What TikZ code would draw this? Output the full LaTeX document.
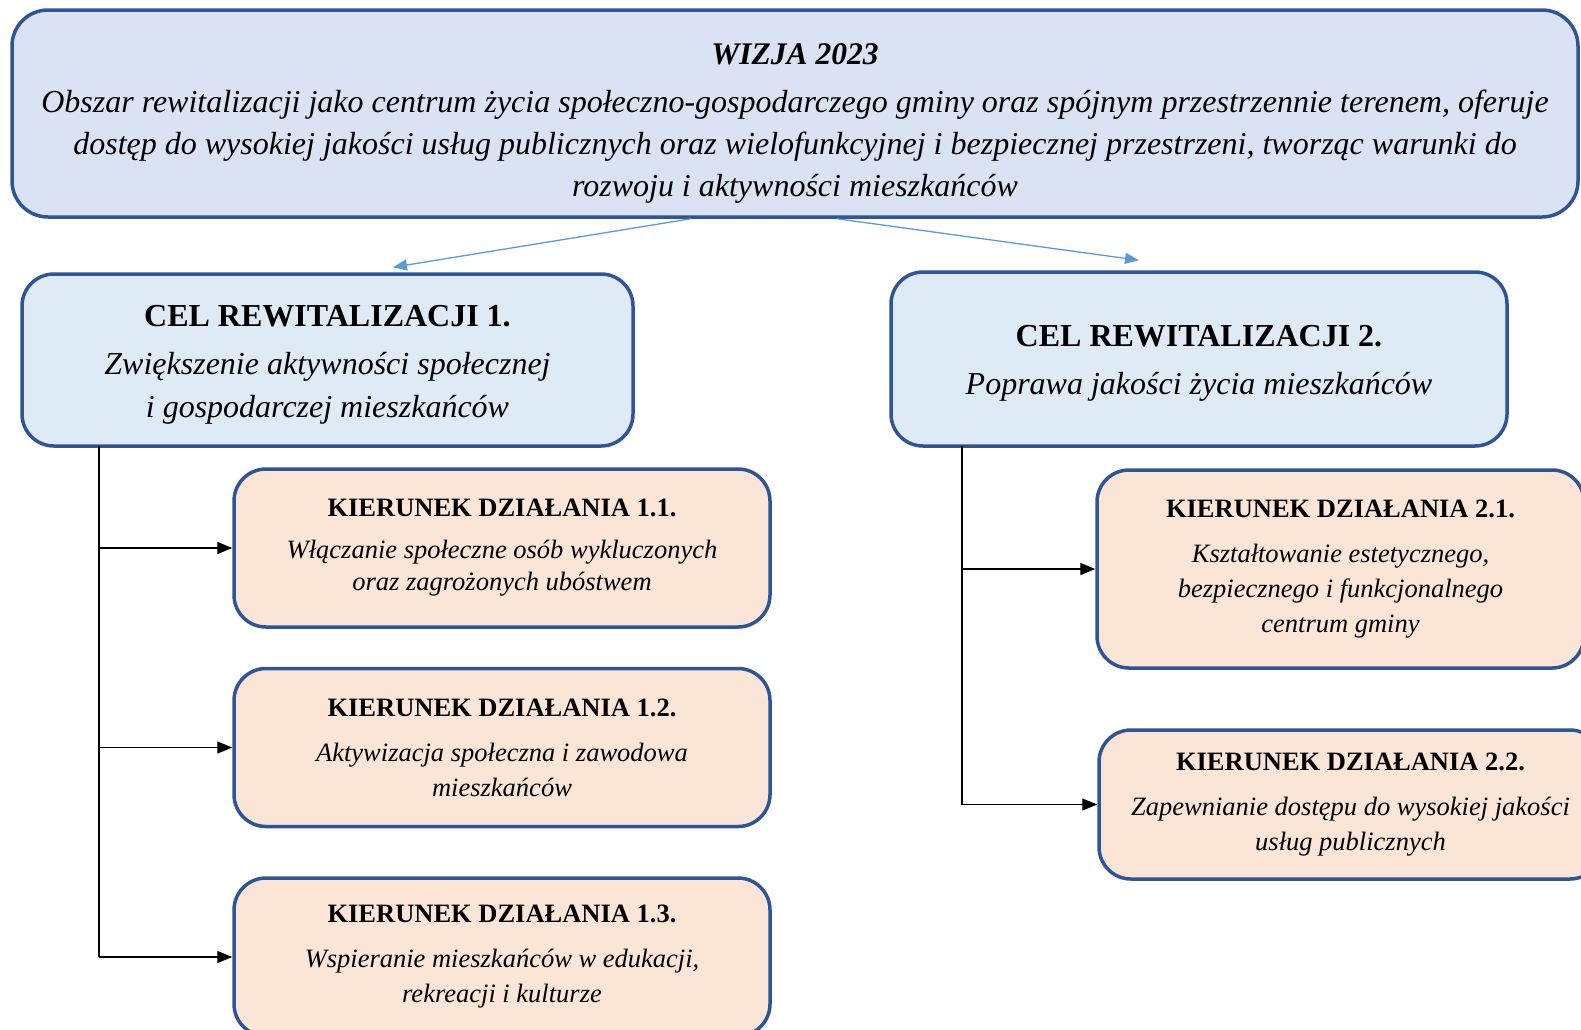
\documentclass[tikz,border=0pt]{standalone}
\usepackage{fontspec}
\setmainfont{Liberation Serif}
\usepackage{xcolor}
\usetikzlibrary{arrows.meta}

\definecolor{visionfill}{HTML}{DAE3F3}
\definecolor{celfill}{HTML}{DEEBF7}
\definecolor{kierfill}{HTML}{FBE5D6}
\definecolor{boxline}{HTML}{2F5597}
\definecolor{linkblue}{HTML}{5B9BD5}

\tikzset{
    visionbox/.style = {draw = boxline, fill = visionfill, line width = 3.5pt,
        rounded corners = 36pt, align = center, inner sep = 0pt,
        font = \fontsize{32}{42}\selectfont\itshape},
    celbox/.style = {draw = boxline, fill = celfill, line width = 3.5pt,
        rounded corners = 32pt, align = center, inner sep = 0pt,
        font = \fontsize{32}{43}\selectfont\itshape},
    kierbox/.style = {draw = boxline, fill = kierfill, line width = 3.5pt,
        rounded corners = 32pt, align = center, inner sep = 0pt,
        font = \fontsize{26.5}{35}\selectfont\itshape},
    bluelink/.style = {draw = linkblue, line width = 1.3pt,
        -{Triangle[length = 14pt, width = 11pt]}},
    blacklink/.style = {draw = black, line width = 1.3pt,
        -{Triangle[length = 15pt, width = 12pt]}}
}

\newcommand{\celtitle}[1]{{\upshape\bfseries\rule{0pt}{30pt}#1}\\[5pt]}
\newcommand{\kiertitle}[1]{{\upshape\bfseries #1}\\[10pt]}

\begin{document}
\begin{tikzpicture}[x = 1pt, y = -1pt]
    \useasboundingbox (0, 0) rectangle (1581, 1029);
    \clip (0, 0) rectangle (1581, 1029);

    % wizja
    \node[visionbox, minimum width = 1566pt, minimum height = 207pt] (wizja) at (795, 113.5)
        {{\fontsize{31.5}{34}\selectfont\bfseries\rule{0pt}{40pt}WIZJA 2023}\\[6pt]
        Obszar rewitalizacji jako centrum życia społeczno-gospodarczego gminy oraz spójnym przestrzennie terenem, oferuje\\
        dostęp do wysokiej jakości usług publicznych oraz wielofunkcyjnej i bezpiecznej przestrzeni, tworząc warunki do\\
        rozwoju i aktywności mieszkańców};

    % cele
    \node[celbox, minimum width = 611pt, minimum height = 172pt] (cel1) at (327.5, 360)
        {\celtitle{CEL REWITALIZACJI 1.}
        Zwiększenie aktywności społecznej\\ i gospodarczej mieszkańców};
    \node[celbox, minimum width = 616pt, minimum height = 174pt] (cel2) at (1199, 359)
        {\celtitle{CEL REWITALIZACJI 2.}
        Poprawa jakości życia mieszkańców};

    % kierunki dzialania
    \node[kierbox, minimum width = 536pt, minimum height = 158pt,
        font = \fontsize{26.5}{32}\selectfont\itshape] (k11) at (502, 548)
        {\kiertitle{KIERUNEK DZIAŁANIA 1.1.}
        Włączanie społeczne osób wykluczonych\\ oraz zagrożonych ubóstwem};
    \node[kierbox, minimum width = 536pt, minimum height = 158pt] (k12) at (502, 747.5)
        {\kiertitle{KIERUNEK DZIAŁANIA 1.2.}
        Aktywizacja społeczna i zawodowa\\ mieszkańców};
    \node[kierbox, minimum width = 536pt, minimum height = 158pt] (k13) at (502, 957)
        {\kiertitle{KIERUNEK DZIAŁANIA 1.3.}
        Wspieranie mieszkańców w edukacji,\\ rekreacji i kulturze};
    \node[kierbox, minimum width = 487pt, minimum height = 198pt] (k21) at (1340.5, 569)
        {\kiertitle{KIERUNEK DZIAŁANIA 2.1.}
        Kształtowanie estetycznego,\\ bezpiecznego i funkcjonalnego\\ centrum gminy};
    \node[kierbox, minimum width = 503pt, minimum height = 149pt] (k22) at (1350.5, 804.5)
        {\kiertitle{KIERUNEK DZIAŁANIA 2.2.}
        Zapewnianie dostępu do wysokiej jakości\\ usług publicznych};

    % strzalki z wizji
    \draw[bluelink] ([xshift = -104pt]wizja.south) -- ([xshift = 65.5pt, yshift = 5pt]cel1.north);
    \draw[bluelink] ([xshift = 42pt]wizja.south) -- ([xshift = -60pt, yshift = 10pt]cel2.north);

    % polaczenia cel -> kierunki
    \coordinate (spine1) at (99, 446);
    \coordinate (spine2) at (962, 446);
    \draw[line width = 1.3pt] (spine1) -- (spine1 |- k13.west);
    \draw[blacklink] (spine1 |- k11.west) -- (k11.west);
    \draw[blacklink] (spine1 |- k12.west) -- (k12.west);
    \draw[blacklink] (spine1 |- k13.west) -- (k13.west);
    \draw[line width = 1.3pt] (spine2) -- (spine2 |- k22.west);
    \draw[blacklink] (spine2 |- k21.west) -- (k21.west);
    \draw[blacklink] (spine2 |- k22.west) -- (k22.west);
\end{tikzpicture}
\end{document}
